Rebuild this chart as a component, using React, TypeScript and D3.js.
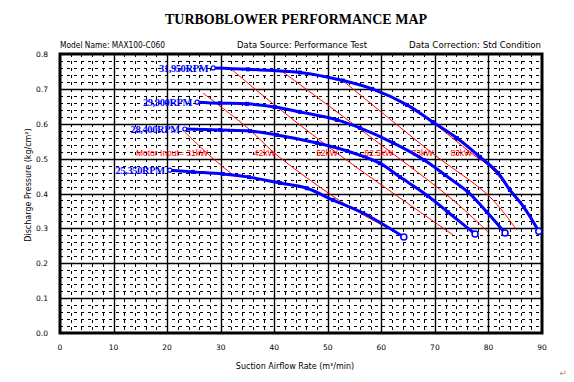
import React from "react";
import * as d3 from "d3";

const title = "TURBOBLOWER PERFORMANCE MAP";
const headerTexts = ["Model Name: MAX100-C060", "Data Source: Performance Test", "Data Correction: Std Condition"];
const xTicks = [0, 10, 20, 30, 40, 50, 60, 70, 80, 90];
const yTicks = [0.0, 0.1, 0.2, 0.3, 0.4, 0.5, 0.6, 0.7, 0.8];
const xTitle = "Suction Airflow Rate (m³/min)";
const yTitle = "Discharge Pressure (kg/cm²)";

const speedNames = ["31,950RPM", "29,900RPM", "28,400RPM", "25,350RPM"];
const speedX = [
  [28.6, 35.1, 44.8, 52.8, 58.3, 64.8, 69.6, 74.1, 78.4, 81.8, 84.0, 86.6, 89.4],
  [25.6, 29.9, 34.9, 40.1, 44.8, 51.7, 56.0, 62.2, 68.0, 71.9, 76.2, 79.7, 83.1],
  [23.3, 29.9, 35.5, 40.5, 48.0, 53.6, 59.7, 63.5, 68.7, 72.4, 77.5],
  [20.5, 24.8, 30.4, 35.3, 41.1, 46.1, 51.0, 56.6, 64.2],
];
const speedY = [
  [0.760, 0.756, 0.747, 0.724, 0.700, 0.654, 0.605, 0.559, 0.505, 0.459, 0.410, 0.361, 0.292],
  [0.662, 0.659, 0.657, 0.648, 0.634, 0.611, 0.588, 0.545, 0.496, 0.453, 0.404, 0.347, 0.287],
  [0.585, 0.582, 0.579, 0.568, 0.545, 0.522, 0.487, 0.447, 0.393, 0.347, 0.284],
  [0.467, 0.462, 0.456, 0.447, 0.430, 0.415, 0.381, 0.344, 0.275],
];

const powerNames = ["Motor Input= 31kW", "42kW", "52kW", "62.5kW", "73kW", "83kW"];
const powerX = [
  [23.3, 28.0, 32.3],
  [26.7, 35.5, 39.8, 48.0, 54.1, 64.0],
  [31.7, 39.8, 51.7, 63.5, 73.4],
  [41.4, 62.0, 73.4, 79.9],
  [52.7, 69.5, 80.3, 85.3],
  [65.3, 70.9, 76.5, 80.3, 84.0, 86.6, 89.2],
];
const powerY = [
  [0.576, 0.508, 0.453],
  [0.688, 0.582, 0.519, 0.424, 0.361, 0.278],
  [0.760, 0.657, 0.516, 0.387, 0.281],
  [0.751, 0.516, 0.381, 0.290],
  [0.725, 0.516, 0.390, 0.295],
  [0.648, 0.588, 0.519, 0.476, 0.410, 0.358, 0.292],
];
const powerLabelLevel = 0.516;

const W = 574, H = 382;
const L = 60, R = 542, T = 54, B = 333;

export default function App() {
  const x = d3.scaleLinear().domain([0, 90]).range([L, R]);
  const y = d3.scaleLinear().domain([0, 0.8]).range([B, T]);
  const line = d3.line<[number, number]>().x(d => x(d[0])).y(d => y(d[1])).curve(d3.curveCatmullRom.alpha(0.5));

  const minorX = d3.range(0, 90.001, 2).filter(v => Math.round(v) % 10 !== 0);
  const minorY = d3.range(0, 0.8001, 0.02).filter(v => Math.round(v * 100) % 10 !== 0);
  const majorX = xTicks.slice(1, -1);
  const majorY = yTicks.slice(1, -1);

  const crossX = (xs: number[], ys: number[], lvl: number) => {
    for (let i = 0; i < xs.length - 1; i++) {
      if ((ys[i] - lvl) * (ys[i + 1] - lvl) <= 0) {
        const t = (ys[i] - lvl) / (ys[i] - ys[i + 1]);
        return xs[i] + t * (xs[i + 1] - xs[i]);
      }
    }
    return xs[xs.length - 1];
  };

  const sans = "'DejaVu Sans', sans-serif";
  return (
    <svg width={W} height={H} style={{ position: "absolute", left: 0, top: 0, background: "#fff" }}>
      <rect x={0} y={0} width={W} height={H} fill="#fff" />
      <text x={296} y={24} textAnchor="middle" fontFamily="'Liberation Serif', serif" fontWeight="bold" fontSize={14}>{title}</text>
      <text x={60} y={48} fontFamily={sans} fontSize={8} textLength={105} lengthAdjust="spacingAndGlyphs">{headerTexts[0]}</text>
      <text x={237} y={48} fontFamily={sans} fontSize={8} textLength={130} lengthAdjust="spacingAndGlyphs">{headerTexts[1]}</text>
      <text x={409} y={48} fontFamily={sans} fontSize={8} textLength={132} lengthAdjust="spacingAndGlyphs">{headerTexts[2]}</text>

      {minorX.map(v => (
        <line key={"mx" + v} x1={Math.round(x(v)) + 0.5} x2={Math.round(x(v)) + 0.5} y1={T} y2={B} stroke="#000" strokeWidth={1} strokeDasharray="3 4" />
      ))}
      {minorY.map(v => (
        <line key={"my" + v} x1={L} x2={R} y1={Math.round(y(v)) + 0.5} y2={Math.round(y(v)) + 0.5} stroke="#000" strokeWidth={1} strokeDasharray="3 4" />
      ))}
      {majorX.map(v => (
        <line key={"Mx" + v} x1={Math.round(x(v)) + 0.5} x2={Math.round(x(v)) + 0.5} y1={T} y2={B} stroke="#000" strokeWidth={1.4} />
      ))}
      {majorY.map(v => (
        <line key={"My" + v} x1={L} x2={R} y1={Math.round(y(v)) + 0.5} y2={Math.round(y(v)) + 0.5} stroke="#000" strokeWidth={1.4} />
      ))}
      <rect x={L} y={T} width={R - L} height={B - T} fill="none" stroke="#000" strokeWidth={3} />

      {yTicks.map(v => (
        <text key={"yt" + v} x={48} y={y(v) + 3} textAnchor="end" fontFamily={sans} fontSize={7.5}>{v.toFixed(1)}</text>
      ))}
      {xTicks.map(v => (
        <text key={"xt" + v} x={x(v)} y={350} textAnchor="middle" fontFamily={sans} fontSize={7.5}>{v}</text>
      ))}
      <text x={295} y={369} textAnchor="middle" fontFamily={sans} fontSize={8}>{xTitle}</text>
      <text transform={`translate(31,${185}) rotate(-90)`} textAnchor="middle" fontFamily={sans} fontSize={8}>{yTitle}</text>

      {powerX.map((xs, i) => {
        const pts = xs.map((v, j) => [v, powerY[i][j]] as [number, number]);
        return <path key={"p" + i} d={line(pts) || ""} fill="none" stroke="#ff0000" strokeWidth={1} />;
      })}
      {powerNames.map((n, i) => (
        <text key={"pl" + i} x={x(crossX(powerX[i], powerY[i], powerLabelLevel)) + 1} y={y(powerLabelLevel) + 3}
          textAnchor="end" fontFamily="'Liberation Sans', Arial, sans-serif" fontSize={8.5} fill="#ff0000">{n}</text>
      ))}

      {speedX.map((xs, i) => {
        const pts = xs.map((v, j) => [v, speedY[i][j]] as [number, number]);
        const last = pts[pts.length - 1];
        return (
          <g key={"s" + i}>
            <path d={line(pts) || ""} fill="none" stroke="#0000ff" strokeWidth={3} />
            {pts.slice(1, -1).map((p, j) => (
              <rect key={j} x={x(p[0]) - 2} y={y(p[1]) - 2} width={4} height={4} fill="#0000ff" />
            ))}
            <circle cx={x(pts[0][0])} cy={y(pts[0][1])} r={2} fill="#fff" stroke="#0000ff" strokeWidth={1.2} />
            <circle cx={x(last[0])} cy={y(last[1])} r={3} fill="#fff" stroke="#0000ff" strokeWidth={1.5} />
            <text x={x(pts[0][0]) - 5} y={y(pts[0][1]) + 4} textAnchor="end" fontFamily="'Liberation Serif', serif"
              fontWeight="bold" fontSize={10.5} fill="#0000ff" letterSpacing={-0.4}>{speedNames[i]}</text>
          </g>
        );
      })}
      <text x={563} y={376} textAnchor="middle" fontFamily={sans} fontSize={9} fill="#999">↵</text>
    </svg>
  );
}
